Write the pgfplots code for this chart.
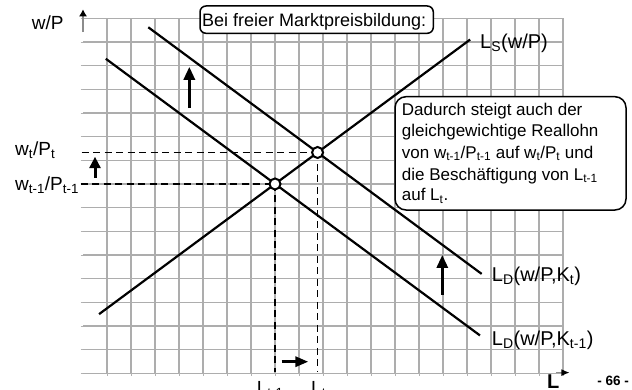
\documentclass[border=0pt]{standalone}
\usepackage{fontspec}
\setmainfont{Liberation Sans}
\usepackage{pgfplots}
\pgfplotsset{compat=1.18}
\usetikzlibrary{arrows.meta}
\newcommand{\sub}[1]{\textsubscript{#1}}
\begin{document}
\begin{tikzpicture}[x=1bp,y=1bp]
\useasboundingbox (0,0) rectangle (632,389);
\begin{axis}[
  at={(83bp,15.7bp)}, anchor=south west,
  x=24bp, y=23.667bp,
  xmin=0, xmax=20, ymin=0, ymax=15,
  axis line style={draw=none},
  xtick={1,...,20}, ytick={0,...,15},
  xticklabels={}, yticklabels={},
  grid=major, grid style={black!32, line width=1.25bp},
  tick style={black!30, line width=0.6bp},
  major tick length=2.5bp, tick align=outside, tick pos=left,
  clip=false,
]
% y axis arrow
\addplot[black!45, line width=1.2bp, -{Latex[length=7bp,width=8bp,color=black]}] coordinates {(0,14.42) (0,15.38)};
% x axis arrow
\addplot[black!45, line width=1.2bp, -{Latex[length=8bp,width=7bp,color=black]}] coordinates {(19.7,0.03) (20.27,0.03)};
% L_S
\addplot[black, line width=2.2bp] coordinates {(0.67,2.5) (16.13,14.1)};
% L_D (K_{t-1})
\addplot[black, line width=2.2bp] coordinates {(0.95,13.29) (16.54,1.6)};
% L_D (K_t)
\addplot[black, line width=2.2bp] coordinates {(2.72,14.62) (16.61,4.2)};
% dashed guides
\addplot[black, line width=1.8bp, dash pattern=on 7bp off 4.5bp] coordinates {(-0.06,9.33) (9.773,9.33)};
\addplot[black, line width=1.8bp, dash pattern=on 7bp off 4.5bp] coordinates {(-0.1,8) (8,8)};
\addplot[black, line width=1.8bp, dash pattern=on 7bp off 4.5bp] coordinates {(8,8) (8,0.07)};
\addplot[black, line width=1.8bp, dash pattern=on 7bp off 4.5bp] coordinates {(9.773,9.33) (9.773,0.07)};
% equilibrium points
\addplot[only marks, mark=*, mark size=5.5bp, mark options={fill=white, draw=black, line width=2bp}] coordinates {(8,8) (9.773,9.33)};
% shift arrows
\addplot[black, line width=3bp, -{Triangle[length=13bp,width=11bp]}] coordinates {(4.43,11.2) (4.43,12.95)};
\addplot[black, line width=3bp, -{Triangle[length=11.5bp,width=11bp]}] coordinates {(0.5,8.26) (0.5,9.15)};
\addplot[black, line width=3bp, -{Triangle[length=13bp,width=11bp]}] coordinates {(14.97,3.31) (14.97,5.0)};
\addplot[black, line width=3bp, -{Triangle[length=13bp,width=10bp]}] coordinates {(8.28,0.49) (9.39,0.49)};
\end{axis}
% boxes
\draw[line width=1.5bp, fill=white, rounded corners=6bp] (200,383) rectangle (433.3,355.7);
\node[anchor=base west, inner sep=0pt, font=\fontsize{18bp}{21bp}\selectfont] at (202,363) {Bei freier Marktpreisbildung:};
\draw[line width=1.5bp, fill=white, rounded corners=11bp] (395,292.3) rectangle (626,179);
\begin{scope}[every node/.style={anchor=base west, inner sep=0pt, font=\fontsize{17bp}{21bp}\selectfont}]
\node at (401.7,273.7) {Dadurch steigt auch der};
\node at (401.7,252.3) {gleichgewichtige Reallohn};
\node at (401.7,230.7) {von w\sub{t-1}/P\sub{t-1} auf w\sub{t}/P\sub{t} und};
\node at (401.7,209) {die Beschäftigung von L\sub{t-1}};
\node at (401.7,188.3) {auf L\sub{t}.};
\end{scope}
% labels
\begin{scope}[every node/.style={anchor=base west, inner sep=0pt, font=\fontsize{19bp}{23bp}\selectfont}]
\node at (31.7,359.5) {w/P};
\node at (15,234) {w\sub{t}/P\sub{t}};
\node at (15,199) {w\sub{t-1}/P\sub{t-1}};
\node at (256.7,-5) {L\sub{t-1}};
\node at (311,-5) {L\sub{t}};
\end{scope}
\begin{scope}[every node/.style={anchor=base west, inner sep=0pt, font=\fontsize{20bp}{24bp}\selectfont}]
\node at (480,340.7) {L\sub{S}(w/P)};
\node at (491.7,107.3) {L\sub{D}(w/P,K\sub{t})};
\node at (491.7,44) {L\sub{D}(w/P,K\sub{t-1})};
\node[font=\fontsize{20bp}{24bp}\selectfont\bfseries] at (547,1) {L};
\end{scope}
\node[anchor=base east, inner sep=0pt, font=\fontsize{13.5bp}{15bp}\selectfont\bfseries] at (629,3.5) {- 66 -};
\end{tikzpicture}
\end{document}
